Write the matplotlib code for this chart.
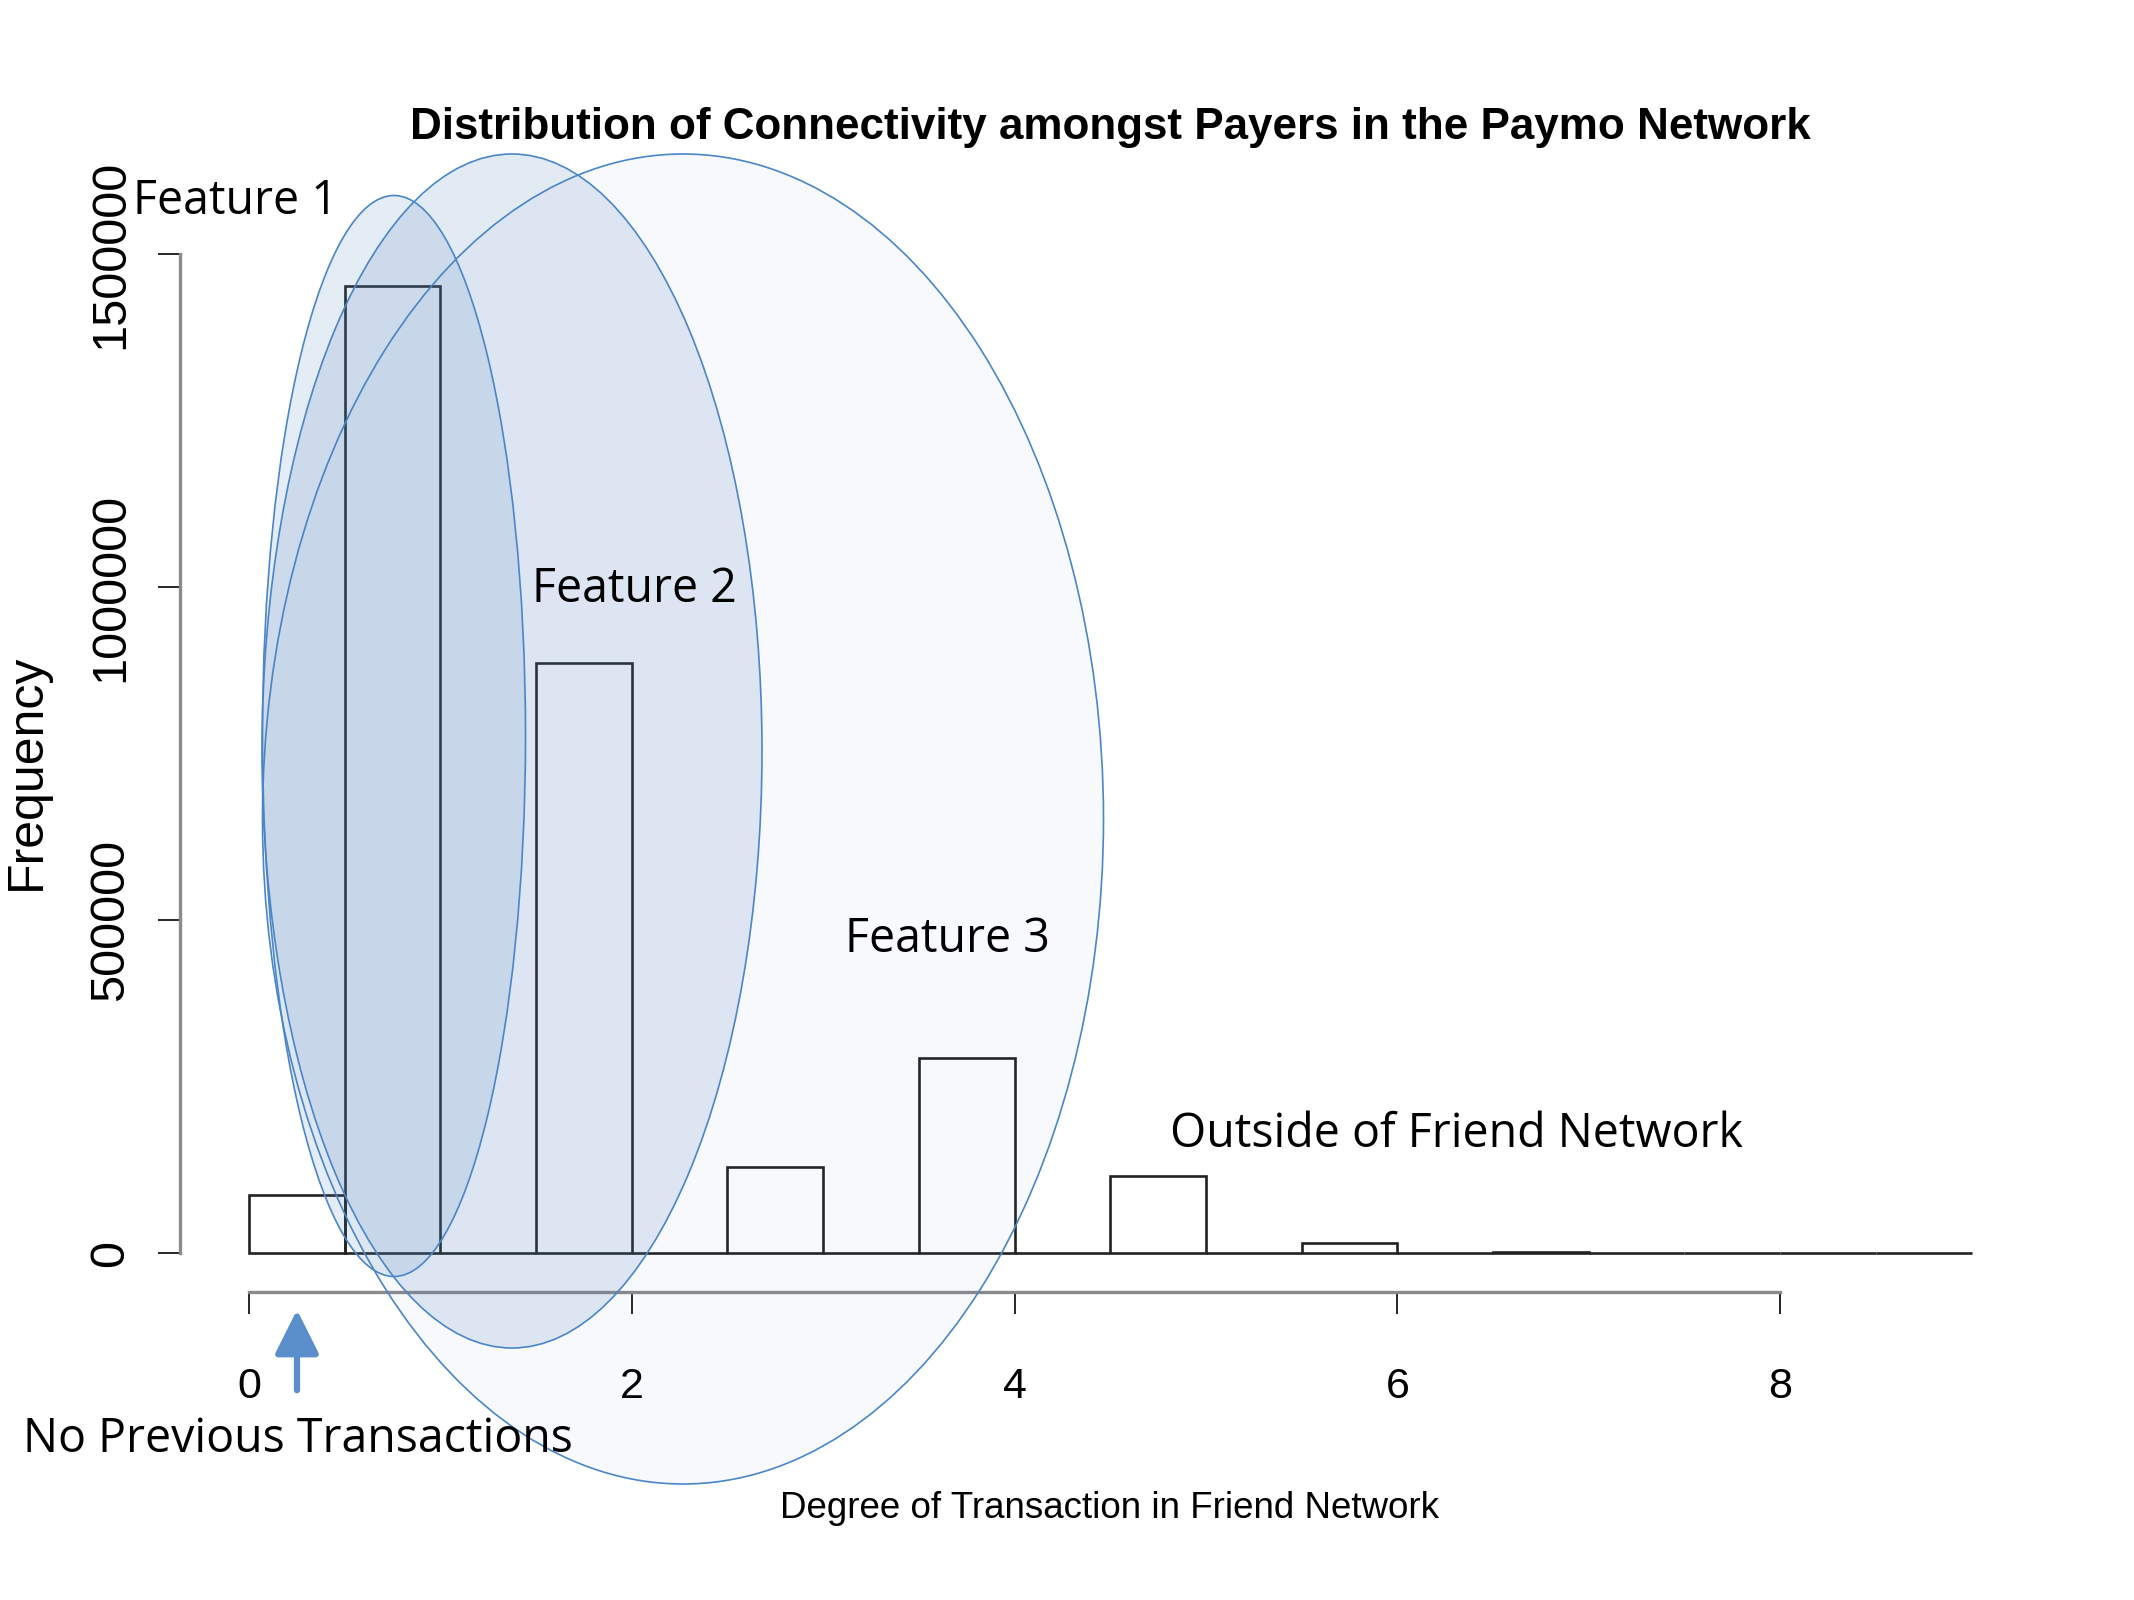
import matplotlib
matplotlib.use("Agg")
import matplotlib.pyplot as plt
from matplotlib.patches import Ellipse

# histogram of payer connectivity (bins of width 0.5 from 0 to 9)
bin_edges = [i * 0.5 for i in range(19)]
counts = [87000, 1453000, 0, 886000, 0, 129000, 0, 294000, 0, 116000,
          0, 16000, 0, 2500, 0, 400, 0, 100]
x_ticks = [0, 2, 4, 6, 8]
y_ticks = [0, 500000, 1000000, 1500000]
y_tick_labels = ["0", "500000", "1000000", "1500000"]

title = "Distribution of Connectivity amongst Payers in the Paymo Network"
x_label = "Degree of Transaction in Friend Network"
y_label = "Frequency"

# highlight ellipses drawn over the chart (figure pixels: cx, cy, w, h, alpha)
feature_ellipses = [
    (683, 819, 841, 1330, 0.045),
    (512, 751, 500, 1194, 0.16),
    (394, 736, 263, 1081, 0.15),
]
notes = [
    ("Feature 1", 133, 201),
    ("Feature 2", 532, 589),
    ("Feature 3", 845, 939),
    ("Outside of Friend Network", 1170, 1134),
    ("No Previous Transactions", 23, 1439),
]

W, H = 2134, 1600
fig = plt.figure(figsize=(W / 100, H / 100), dpi=100)

rfont = "Liberation Sans"
ax = fig.add_axes([180 / W, 308 / H, 1860.5 / W, 1045 / H])
ax.bar(bin_edges[:-1], counts, width=0.5, align="edge", fill=False,
       edgecolor="#222222", linewidth=1.9)
ax.set_xlim(-0.36, 9.36)
ax.set_ylim(-0.04 * max(counts), 1.04 * max(counts))

for side in ["top", "right"]:
    ax.spines[side].set_visible(False)
for side in ["left", "bottom"]:
    ax.spines[side].set_color("#8a8a8a")
    ax.spines[side].set_linewidth(2.4)
ax.spines["left"].set_bounds(0, 1500000)
ax.spines["bottom"].set_bounds(0, 8)

ax.set_xticks(x_ticks)
ax.set_xticklabels([str(t) for t in x_ticks], fontfamily=rfont, fontsize=31)
ax.set_yticks(y_ticks)
ax.set_yticklabels(y_tick_labels, fontfamily=rfont, fontsize=35,
                   rotation=90, va="center")
ax.tick_params(axis="x", length=16, width=1.2, color="black", pad=38)
ax.tick_params(axis="y", length=16, width=1.2, color="black", pad=18)

over = fig.add_axes([0, 0, 1, 1], facecolor="none")
over.set_xlim(0, W)
over.set_ylim(H, 0)
over.axis("off")

for cx, cy, w, h, a in feature_ellipses:
    over.add_patch(Ellipse((cx, cy), w, h, facecolor=(0.31, 0.506, 0.741, a),
                           edgecolor="#4a86c8", linewidth=1.2))

for text, x, y in notes:
    over.text(x, y, text, fontfamily="Open Sans", fontsize=33.5,
              ha="left", va="center", color="black")

over.annotate("", xy=(297, 1307), xytext=(297, 1393),
              arrowprops=dict(arrowstyle="-|>,head_length=0.9,head_width=0.45",
                              color="#5b8fcb", lw=4.5, mutation_scale=30))

over.text(1110, 127, title, fontfamily=rfont, fontweight="bold", fontsize=31.7,
          ha="center", va="center")
over.text(1109, 1508, x_label, fontfamily=rfont, fontsize=26.5,
          ha="center", va="center")
over.text(27, 772, y_label, fontfamily=rfont, fontsize=36,
          rotation=90, ha="center", va="center")

fig.savefig("out.png", dpi=100)
